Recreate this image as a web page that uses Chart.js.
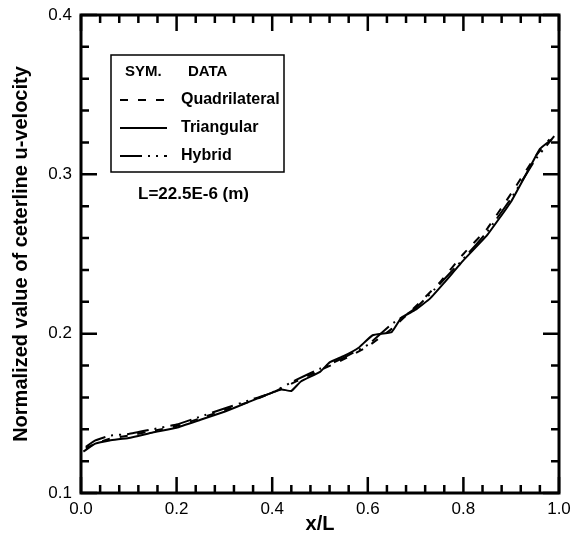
<!DOCTYPE html>
<html>
<head>
<meta charset="utf-8">
<script src="https://cdn.jsdelivr.net/npm/chart.js@4/dist/chart.umd.min.js"></script>
<style>
  html, body { margin: 0; padding: 0; background: #fff; }
  #wrap { width: 571px; height: 538px; }
</style>
</head>
<body>
<div id="wrap"><canvas id="canvas"></canvas></div>
<script>
// values
var quadX = [0.01, 0.03, 0.06, 0.10, 0.15, 0.20, 0.25, 0.30, 0.35, 0.40, 0.45, 0.50, 0.55, 0.60, 0.65, 0.70, 0.75, 0.80, 0.85, 0.90, 0.95, 0.98];
var quadY = [0.128, 0.131, 0.134, 0.136, 0.139, 0.142, 0.147, 0.152, 0.157, 0.163, 0.170, 0.177, 0.184, 0.192, 0.203, 0.217, 0.232, 0.250, 0.266, 0.288, 0.311, 0.322];

var triX = [0.005, 0.03, 0.06, 0.10, 0.15, 0.20, 0.25, 0.30, 0.35, 0.40, 0.42, 0.44, 0.46, 0.50, 0.52, 0.55, 0.58, 0.61, 0.65, 0.67, 0.70, 0.73, 0.76, 0.80, 0.85, 0.90, 0.94, 0.96, 0.985];
var triY = [0.126, 0.131, 0.133, 0.1345, 0.138, 0.141, 0.146, 0.151, 0.157, 0.163, 0.165, 0.164, 0.170, 0.176, 0.182, 0.186, 0.191, 0.199, 0.201, 0.210, 0.215, 0.222, 0.232, 0.246, 0.262, 0.283, 0.305, 0.316, 0.322];

var hybX = [0.01, 0.03, 0.06, 0.10, 0.15, 0.20, 0.25, 0.30, 0.35, 0.40, 0.45, 0.50, 0.55, 0.60, 0.65, 0.70, 0.75, 0.80, 0.85, 0.90, 0.95, 0.99];
var hybY = [0.129, 0.133, 0.136, 0.137, 0.140, 0.143, 0.148, 0.153, 0.158, 0.163, 0.171, 0.178, 0.185, 0.193, 0.206, 0.216, 0.231, 0.247, 0.264, 0.285, 0.309, 0.324];

var seriesNames = ['Quadrilateral', 'Triangular', 'Hybrid'];
var seriesDash = [[8, 10], [], [22, 6, 2, 6, 2, 6]];
var xTicks = [0.0, 0.2, 0.4, 0.6, 0.8, 1.0];
var yTicks = [0.1, 0.2, 0.3, 0.4];
var noteText = 'L=22.5E-6 (m)';

function pts(xs, ys) {
  return xs.map(function (x, i) { return { x: x, y: ys[i] }; });
}

var FONT = '"Liberation Sans", Arial, sans-serif';

// frame, inward ticks on all sides, legend box and note
var framePlugin = {
  id: 'frame',
  afterDraw: function (chart) {
    var ctx = chart.ctx;
    var a = chart.chartArea;
    var xs = chart.scales.x, ys = chart.scales.y;
    ctx.save();
    ctx.strokeStyle = '#000';
    ctx.lineWidth = 2.5;
    var i, v, p;
    ctx.beginPath();
    for (i = 0; i <= 25; i++) {
      v = i * 0.04;
      p = xs.getPixelForValue(v);
      var len = (i % 5 === 0) ? 16 : 8;
      ctx.moveTo(p, a.bottom); ctx.lineTo(p, a.bottom - len);
      ctx.moveTo(p, a.top); ctx.lineTo(p, a.top + len);
    }
    for (i = 0; i <= 15; i++) {
      v = 0.1 + i * 0.02;
      p = ys.getPixelForValue(v);
      var len2 = (i % 5 === 0) ? 16 : 8;
      ctx.moveTo(a.left, p); ctx.lineTo(a.left + len2, p);
      ctx.moveTo(a.right, p); ctx.lineTo(a.right - len2, p);
    }
    ctx.stroke();
    ctx.lineWidth = 3;
    ctx.strokeRect(a.left, a.top, a.right - a.left, a.bottom - a.top);

    // legend box
    ctx.lineWidth = 1.5;
    ctx.strokeRect(111, 55, 173, 117);
    ctx.fillStyle = '#000';
    ctx.textBaseline = 'middle';
    ctx.textAlign = 'left';
    ctx.font = 'bold 15px ' + FONT;
    ctx.fillText('SYM.', 125, 72);
    ctx.fillText('DATA', 188, 72);
    ctx.font = 'bold 16px ' + FONT;
    var rows = [100, 128, 156];
    chart.data.datasets.forEach(function (ds, k) {
      ctx.save();
      ctx.lineWidth = 2;
      ctx.setLineDash(ds.borderDash);
      ctx.beginPath();
      ctx.moveTo(120, rows[k]);
      ctx.lineTo(167, rows[k]);
      ctx.stroke();
      ctx.restore();
      ctx.fillText(ds.label, 181, rows[k]);
    });
    ctx.font = 'bold 17px ' + FONT;
    ctx.fillText(noteText, 138, 194);
    ctx.restore();
  }
};

new Chart(document.getElementById('canvas'), {
  type: 'line',
  data: {
    datasets: [
      { label: seriesNames[0], data: pts(quadX, quadY), borderDash: seriesDash[0] },
      { label: seriesNames[1], data: pts(triX, triY), borderDash: seriesDash[1] },
      { label: seriesNames[2], data: pts(hybX, hybY), borderDash: seriesDash[2] }
    ]
  },
  options: {
    responsive: true,
    maintainAspectRatio: false,
    animation: false,
    layout: { padding: { left: 0, right: 12, top: 15, bottom: 0 } },
    elements: {
      line: { borderColor: '#000', borderWidth: 2, tension: 0.1, fill: false },
      point: { radius: 0 }
    },
    plugins: { legend: { display: false }, tooltip: { enabled: false } },
    scales: {
      x: {
        type: 'linear', min: 0, max: 1,
        afterBuildTicks: function (s) { s.ticks = xTicks.map(function (v) { return { value: v }; }); },
        afterFit: function (s) { s.height = 45; s.paddingLeft = 0; s.paddingRight = 0; },
        grid: { display: false, drawTicks: false, tickLength: 0 },
        border: { display: false },
        ticks: {
          color: '#000', padding: 6, maxRotation: 0,
          font: { family: FONT, size: 17 },
          callback: function (v) { return v.toFixed(1); }
        },
        title: {
          display: true, text: 'x/L', color: '#000',
          font: { family: FONT, size: 20, weight: 'bold' },
          padding: { top: 0, bottom: 2 }
        }
      },
      y: {
        type: 'linear', min: 0.1, max: 0.4,
        afterBuildTicks: function (s) { s.ticks = yTicks.map(function (v) { return { value: v }; }); },
        afterFit: function (s) { s.width = 81; s.paddingTop = 0; s.paddingBottom = 0; },
        grid: { display: false, drawTicks: false, tickLength: 0 },
        border: { display: false },
        ticks: {
          color: '#000', padding: 9,
          font: { family: FONT, size: 17 },
          callback: function (v) { return v.toFixed(1); }
        },
        title: {
          display: true, text: 'Normalized value of ceterline u-velocity', color: '#000',
          font: { family: FONT, size: 20, weight: 'bold' },
          padding: { top: 9, bottom: 0 }
        }
      }
    }
  },
  plugins: [framePlugin]
});
</script>
</body>
</html>
